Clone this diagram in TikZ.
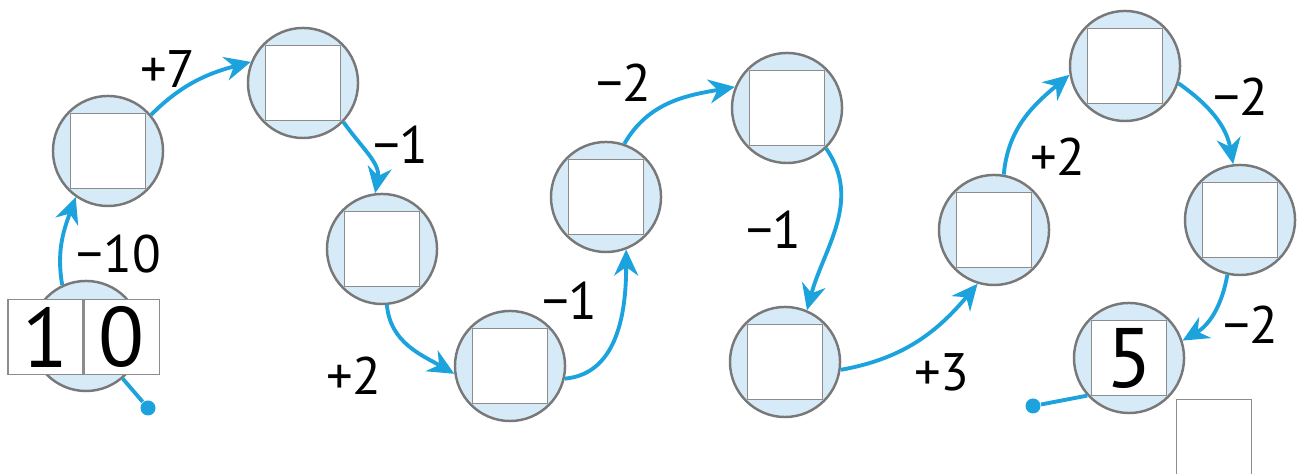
\documentclass[tikz,border=0pt]{standalone}
\usepackage{fontspec}
\setmainfont{PT Sans}
\usetikzlibrary{arrows.meta,positioning}
\definecolor{ringblue}{HTML}{D6EBF7}
\definecolor{ringgray}{HTML}{787878}
\definecolor{pathcyan}{HTML}{1CA3DE}

\begin{document}
\begin{tikzpicture}[
  x=0.01cm, y=0.01cm,
  font=\fontsize{15}{15}\selectfont,
  >={Stealth[length=2.6mm, width=2.4mm]},
  ring/.style={circle, draw=ringgray, fill=ringblue, minimum size=1.1cm,
               inner sep=0pt, line width=0.7pt},
  slot/.style={rectangle, draw=gray!90, fill=white, minimum size=0.75cm,
               inner sep=0pt, line width=0.4pt},
  bignum/.style={font=\fontsize{24}{24}\selectfont},
  hop/.style={->, draw=pathcyan, line width=1.1pt},
  tail/.style={draw=pathcyan, line width=1.1pt},
  endpt/.style={circle, fill=pathcyan, inner sep=0pt, minimum size=1.5mm},
]
\useasboundingbox (0,0) rectangle (1304,474);

% Circles along the path
\node[ring] (n1) at (86,138) {};
\node[ring] (n2) at (108,323) {};
\node[ring] (n3) at (303,391) {};
\node[ring] (n4) at (382,225) {};
\node[ring] (n5) at (510,108) {};
\node[ring] (n6) at (606,277) {};
\node[ring] (n7) at (787,366) {};
\node[ring] (n8) at (785,112) {};
\node[ring] (n9) at (994,244) {};
\node[ring] (n10) at (1125,408) {};
\node[ring] (n11) at (1240,254) {};
\node[ring] (n12) at (1129,116) {};

% Answer boxes
\foreach \i in {2,...,11}
  \node[slot] (s\i) at (n\i) {};
\node[slot, bignum] (s12) at (n12) {5};
\node[slot] (extra) at (1214,37) {};

% Start and end points
\node[endpt] (start) at (148,66) {};
\node[endpt] (stop) at (1033,68) {};
\draw[tail] (n1) -- (start);
\draw[tail] (n12.222) -- (stop);

% Steps
\draw[hop] (n1.115) to[out=100, in=-110] (n2.235);
\draw[hop] (n2.40) to[out=45, in=195] (n3.158);
\draw[hop] (n3.-44) to[out=-55, in=80] (n4.97);
\draw[hop] (n4.-85) to[out=-85, in=150] (n5.188);
\draw[hop] (n5.-13) to[out=5, in=-90] (n6.-69);
\draw[hop] (n6.71) to[out=60, in=190] (n7.158);
\draw[hop] (n7.-46) to[out=-55, in=75] (n8.67);
\draw[hop] (n8.-8) to[out=10, in=-130] (n9.253);
\draw[hop] (n9.80) to[out=85, in=220] (n10.189);
\draw[hop] (n10.-18) to[out=-35, in=100] (n11.97);
\draw[hop] (n11.-103) to[out=-100, in=30] (n12.18);

% Starting number
\node[slot, bignum] (tens) at (45.5,137) {1};
\node[slot, bignum, right=0pt of tens] (ones) {0};

% Step labels
\node (l1) at (119,220) {−10};
\node (l2) at (168,405) {+7};
\node (l3) at (401,329) {−1};
\node (l4) at (354,98) {+2};
\node (l5) at (570,173) {−1};
\node (l6) at (624,391) {−2};
\node (l7) at (774,244) {−1};
\node (l8) at (942,102) {+3};
\node (l9) at (1058,317) {+2};
\node (l10) at (1241,377) {−2};
\node (l11) at (1251,149) {−2};

\end{tikzpicture}
\end{document}
